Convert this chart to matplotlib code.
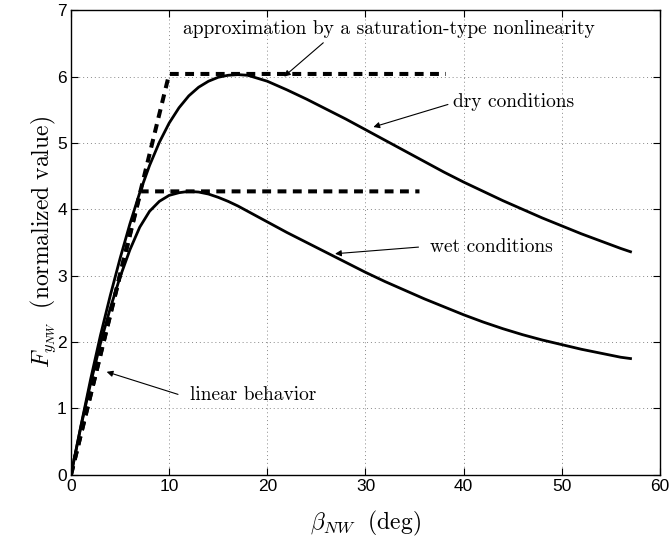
import matplotlib
matplotlib.use('Agg')
import matplotlib.pyplot as plt

# 数据
beta_dry = [0, 1, 2, 3, 4, 5, 6, 7, 8, 9, 10, 11, 12, 13, 14, 15, 16, 17, 18, 20,
            22, 24, 26, 28, 30, 32, 34, 36, 38, 40, 42, 44, 46, 48, 50, 52, 54, 56, 57]
force_dry = [0, 0.73, 1.44, 2.1, 2.7, 3.26, 3.78, 4.25, 4.66, 5.01, 5.3, 5.53, 5.71,
             5.84, 5.93, 5.99, 6.02, 6.03, 6.02, 5.93, 5.8, 5.66, 5.51, 5.36, 5.2, 5.04,
             4.88, 4.72, 4.56, 4.41, 4.27, 4.13, 4.0, 3.87, 3.75, 3.63, 3.52, 3.41, 3.36]

beta_wet = [0, 1, 2, 3, 4, 5, 6, 7, 8, 9, 10, 11, 12, 13, 14, 15, 16, 17, 18, 20,
            22, 24, 26, 28, 30, 32, 34, 36, 38, 40, 42, 44, 46, 48, 50, 52, 54, 56, 57]
force_wet = [0, 0.72, 1.38, 1.98, 2.51, 2.98, 3.39, 3.73, 3.97, 4.12, 4.21, 4.25, 4.27,
             4.26, 4.23, 4.18, 4.12, 4.05, 3.97, 3.81, 3.65, 3.5, 3.35, 3.2, 3.05,
             2.91, 2.78, 2.65, 2.53, 2.41, 2.3, 2.2, 2.11, 2.03, 1.96, 1.89, 1.83,
             1.77, 1.75]

# 饱和近似（虚线）
sat_dry_x = [0, 10, 38.2]
sat_dry_y = [0, 6.04, 6.04]
sat_wet_x = [0, 7.1, 35.5]
sat_wet_y = [0, 4.27, 4.27]

plt.rcParams['mathtext.fontset'] = 'cm'
plt.rcParams['font.family'] = ['Liberation Sans', 'DejaVu Sans']

fig = plt.figure(figsize=(6.7, 5.4), dpi=100)
ax = fig.add_axes([0.106, 0.121, 0.879, 0.86])

ax.plot(beta_dry, force_dry, color='k', lw=2.0, solid_joinstyle='round')
ax.plot(beta_wet, force_wet, color='k', lw=2.0, solid_joinstyle='round')
ax.plot(sat_dry_x, sat_dry_y, color='k', lw=2.9, dashes=(2.2, 1.6))
ax.plot(sat_wet_x, sat_wet_y, color='k', lw=2.9, dashes=(2.2, 1.6))

ax.set_xlim(0, 60)
ax.set_ylim(0, 7)
ax.set_xticks(range(0, 61, 10))
ax.set_yticks(range(0, 8))
ax.tick_params(direction='in', top=True, right=True, length=5, labelsize=12.5, pad=3)
ax.grid(True, linestyle=(0, (1, 3)), color='#888888', lw=0.7)
for s in ax.spines.values():
    s.set_linewidth(1.0)

ax.set_xlabel(r'$\beta_{NW}\ \ \mathrm{(deg)}$', fontsize=17, labelpad=11)
ax.set_ylabel(r'$F_{y_{NW}}\ \ \mathrm{(normalized\ value)}$', fontsize=17, labelpad=-1)

# 注释
ann = dict(fontsize=14, family='cmr10', va='center', ha='left')
arrow = dict(arrowstyle='-|>', color='k', lw=0.8, mutation_scale=9, shrinkA=0, shrinkB=0)
ax.annotate('approximation by a saturation-type nonlinearity', xy=(11.4, 6.71), **ann)
ax.annotate('', xy=(21.7, 6.0), xytext=(25.7, 6.51), arrowprops=arrow)
ax.annotate('dry conditions', xy=(38.9, 5.61), **ann)
ax.annotate('', xy=(30.8, 5.24), xytext=(38.4, 5.58), arrowprops=arrow)
ax.annotate('wet conditions', xy=(36.6, 3.43), **ann)
ax.annotate('', xy=(26.9, 3.33), xytext=(35.4, 3.43), arrowprops=arrow)
ax.annotate('linear behavior', xy=(12.1, 1.2), **ann)
ax.annotate('', xy=(3.63, 1.55), xytext=(10.9, 1.21), arrowprops=arrow)

fig.savefig('out.png', dpi=100)
